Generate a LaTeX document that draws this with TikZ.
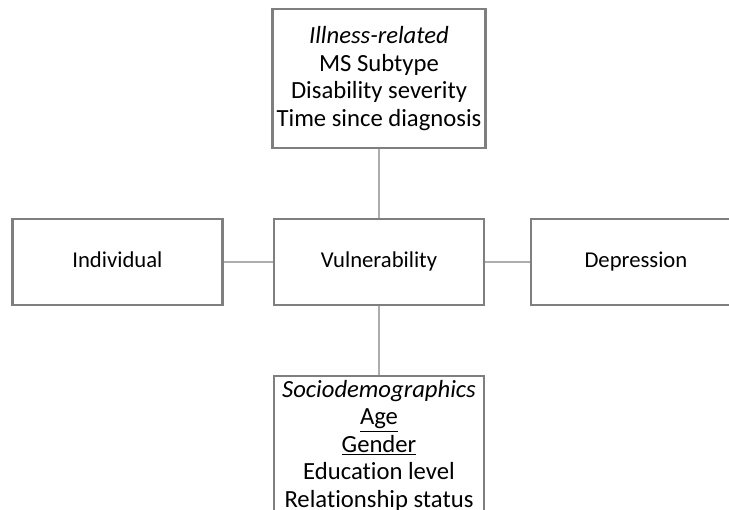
\documentclass[tikz,border=0pt]{standalone}
\usepackage{fontspec}
\setmainfont{Carlito}[Ligatures={NoCommon,NoRare}]
\usetikzlibrary{positioning}
\definecolor{box_grey}{HTML}{7F7F7F}
\definecolor{link_grey}{HTML}{ADADAD}

\begin{document}
\begin{tikzpicture}[
        factor_box/.style={
            draw=box_grey,
            rectangle,
            line width=1.7pt,
            minimum width=157.5pt,
            minimum height=64.5pt,
            text height=11.5pt,
            text depth=3.5pt,
            font=\fontsize{17}{20.6}\selectfont
        },
        list_box/.style={
            factor_box,
            minimum height=104pt,
            text height=,
            text depth=,
            align=center,
            inner sep=3pt,
            font=\fontsize{18.5}{20.6}\selectfont
        },
        link_style/.style={
            draw=link_grey,
            line width=1.3pt
        }
    ]
        \useasboundingbox (0,0) rectangle (546.75pt,-382.5pt);
        \clip (0,0) rectangle (546.75pt,-382.5pt);
        \node[factor_box] (vulnerability) at (284.25pt,-196.5pt) {Vulnerability};
        \node[factor_box, left=37pt of vulnerability] (individual) {Individual};
        \node[factor_box, right=33.5pt of vulnerability] (depression) {Depression};
        \node[list_box, above=51.75pt of vulnerability] (illness) {\textit{Illness-related}\\ MS Subtype\\ Disability severity\\ Time since diagnosis};
        \node[list_box, below=51.75pt of vulnerability] (sociodemo) {\textit{Sociodemographics}\\ \underline{Age}\\ \underline{Gender}\\ Education level\\ Relationship status};
        \draw[link_style] (illness) -- (vulnerability);
        \draw[link_style] (vulnerability) -- (sociodemo);
        \draw[link_style] (individual) -- (vulnerability);
        \draw[link_style] (vulnerability) -- (depression);
    \end{tikzpicture}
\end{document}
